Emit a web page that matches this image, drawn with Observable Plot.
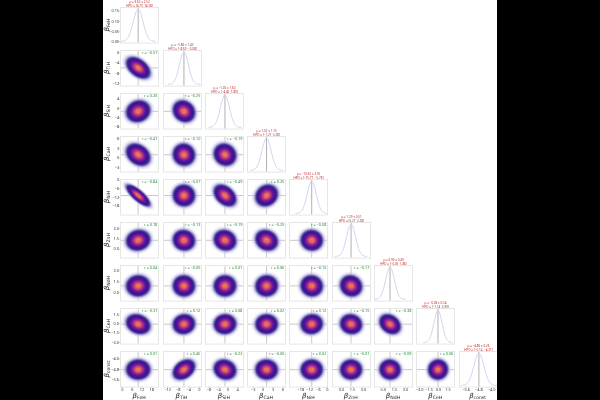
<!DOCTYPE html>
<html>
<head>
<meta charset="utf-8">
<script src="https://cdn.jsdelivr.net/npm/d3@7"></script>
<script src="https://cdn.jsdelivr.net/npm/@observablehq/plot@0.6"></script>
<style>
html,body{margin:0;padding:0;background:#000;width:600px;height:400px;overflow:hidden}
#fig{position:absolute;left:103px;top:0;width:394px;height:400px;background:#fff;overflow:hidden;font-family:"DejaVu Sans",sans-serif;filter:blur(.3px)}
#fig svg{position:absolute;background:transparent;max-width:none}
.lab{position:absolute;font-size:7px;line-height:1;color:#222;white-space:nowrap;transform:translate(-50%,-50%)}
.lab i{font-style:italic}
.lab sub{font-size:4.6px;vertical-align:-1.2px;line-height:0}
.lab.y{transform:translate(-50%,-50%) rotate(-90deg)}
</style>
</head>
<body>
<div id="fig"></div>
<script>
// ---- values ----
const names = ["FeH","TiH","SiH","CaH","NiH","ZnH","NdH","CeH","const"];
const means = [9.62,-5.86,-1.26,1.02,-10.62,1.29,0.90,-0.08,-4.80];
const sds   = [2.52,1.43,1.60,1.15,2.55,0.51,0.49,0.54,0.26];
const hpdLow  = ["4.73","−8.69","−4.40","−1.21","−15.77","0.27","−0.05","−1.14","−5.14"];
const hpdHigh = ["14.58","−3.08","1.89","3.28","−5.76","2.28","1.86","0.99","−4.31"];
const muText = ["9.62 ± 2.52","−5.86 ± 1.43","−1.26 ± 1.60","1.02 ± 1.15","−10.62 ± 2.55","1.29 ± 0.51","0.90 ± 0.49","−0.08 ± 0.54","−4.80 ± 0.26"];
const correlations = [
  [],
  [-0.57],
  [0.20,-0.25],
  [-0.41,-0.10,-0.19],
  [-0.84,-0.07,-0.49,0.25],
  [0.18,-0.13,-0.19,-0.25,-0.08],
  [0.04,-0.05,0.01,0.06,-0.10,-0.17],
  [-0.31,0.12,0.08,0.02,0.12,-0.15,-0.38],
  [0.01,0.45,-0.22,-0.06,0.02,-0.01,-0.09,0.06]
];
const xDomains = [[-1.2,22.1],[-13.6,0.8],[-9.4,6.5],[-4.7,6.7],[-25.7,0.1],[-1.24,3.94],[-1.2,3.95],[-3.5,2.55],[-6.01,-3.64]];
const yDomains = [[-0.008,0.168],[-13.0,0.94],[-8.96,6.47],[-4.3,6.6],[-24.2,0.5],[-1.29,3.87],[-1.17,3.68],[-3.27,2.43],[-6.13,-3.42]];
const xTicks = [[0,6,12,18],[-12,-8,-4,0],[-8,-4,0,4],[-3,0,3,6],[-18,-12,-6,0],[0,1.5,3],[0,1.5,3],[-3,-1.5,0,1.5],[-5.6,-4.8,-4]];
const yTicks = [[0,0.05,0.1,0.15],[-12,-8,-4,0],[-8,-4,0,4],[-3,0,3,6],[-18,-12,-6,0],[0,1.5,3],[0,1.5,3],[-3,-1.5,0,1.5],[-5.6,-4.8,-4]];
const tickDigits = [0,0,0,0,0,1,1,1,1];
const densityPeak = [0.16,0.28,0.25,0.35,0.157,0.78,0.82,0.74,1.53];
const curveOffsets = [-4.2,-3.6,-3.2,-2.8,-2.4,-2,-1.6,-1.2,-0.8,-0.4,0,0.4,0.8,1.2,1.6,2,2.4,2.8,3.2,3.6,4.2];
const curveHeights = [0.002,0.011,0.029,0.066,0.135,0.249,0.411,0.606,0.80,0.946,1,0.946,0.80,0.606,0.411,0.249,0.135,0.066,0.029,0.011,0.002];
// distance from the blob centre (in standard deviations) -> colour seen at that distance
const blobStops  = [0,0.35,0.75,1.2,1.65,2.15,2.6,2.95,3.4,4.1];
const blobColors = ["#f9a84a","#ef7f4f","#d5566e","#a92b8a","#6a149e","#3f1293","#33208a","#7068b8","#bdb7df","#ebe8f6"];

// ---- layout ----
const colStep = 42.3, rowStep = 43, left0 = 120.2 - 103, top0 = 6.8, pw = 38, ph = 35.6;
const mL = 18, mR = 2, mT = 8, mB = 10;
const fig = document.getElementById("fig");
const tickColor = "#333", ruleColor = "#c8c8c8", frameColor = "#e6e6e6";

function axes(i, j){
  const marks = [];
  const tickOpts = {fontSize:3.9, tickSize:1, tickPadding:0.4, stroke:"#aaa", strokeWidth:0.5, fill:tickColor, label:null};
  if (j === 0) {
    const dig = i === 0 ? 2 : tickDigits[i];
    marks.push(Plot.axisY(yTicks[i], {...tickOpts, anchor:"left", tickFormat:v => d3.format("."+dig+"f")(v).replace("-","−")}));
  }
  if (i === names.length - 1) {
    const dig = tickDigits[j];
    marks.push(Plot.axisX(xTicks[j], {...tickOpts, anchor:"bottom", tickFormat:v => d3.format("."+dig+"f")(v).replace("-","−")}));
  }
  return marks;
}
function place(svg, i, j){
  svg.style.left = (left0 + j*colStep - mL) + "px";
  svg.style.top = (top0 + i*rowStep - mT) + "px";
  fig.appendChild(svg);
}
const base = {width: pw + mL + mR, height: ph + mT + mB, marginLeft: mL, marginRight: mR, marginTop: mT, marginBottom: mB};

for (let i = 0; i < names.length; i++) {
  for (let j = 0; j <= i; j++) {
    let marks;
    let yDom;
    if (i === j) {
      const p = densityPeak[i];
      yDom = i === 0 ? yDomains[0] : [-0.05*p, 1.05*p];
      const line = curveOffsets.map((z,k) => ({x: means[i] + z*sds[i], y: curveHeights[k]*p}));
      marks = [
        Plot.ruleX([means[i]], {stroke:"#b0b0b0", strokeWidth:1}),
        Plot.line(line, {x:"x", y:"y", curve:"monotone-x", stroke:"#cfcff2", strokeWidth:0.9}),
        Plot.text([`μ = ${muText[i]}`], {frameAnchor:"top", dy:-4.2, fontSize:3, fill:"#bb2a2a", lineAnchor:"bottom", text:d=>d}),
        Plot.text([`HPD = [${hpdLow[i]}, ${hpdHigh[i]}]`], {frameAnchor:"top", dy:-0.4, fontSize:3, fill:"#bb2a2a", lineAnchor:"bottom", text:d=>d})
      ];
    } else {
      yDom = yDomains[i];
      const r = correlations[i][j];
      // the drawn shape looks rounder than the printed r because of its long tails
      const shapeR = Math.sign(r) * Math.pow(Math.abs(r), 1.4);
      const [mx,my,sx,sy] = [means[j],means[i],sds[j],sds[i]];
      const dist = (x,y) => {
        const a = (x-mx)/sx, b = (y-my)/sy;
        return Math.sqrt((a*a - 2*shapeR*a*b + b*b)/(1 - shapeR*shapeR));
      };
      const rText = `r = ${r.toFixed(2).replace("-","−")}`;
      marks = [
        Plot.ruleX([mx], {stroke:ruleColor, strokeWidth:1}),
        Plot.ruleY([my], {stroke:ruleColor, strokeWidth:1}),
        Plot.raster({
          x1:xDomains[j][0], x2:xDomains[j][1], y1:yDom[0], y2:yDom[1],
          pixelSize:1,
          fill:(x,y) => dist(x,y),
          fillOpacity:(x,y) => { const d = dist(x,y); return d < 2.9 ? 1 : Math.max(0, 1 - (d-2.9)/1.3); }
        }),
        Plot.dot([[mx,my]], {x:d=>d[0], y:d=>d[1], r:0.6, fill:"#553", fillOpacity:0.7, stroke:null}),
        Plot.text([rText], {frameAnchor:"top-right", dx:-1.2, dy:1, fontSize:3.8, fill:"#1f8a30", lineAnchor:"top", text:d=>d})
      ];
    }
    const svg = Plot.plot({
      ...base,
      x:{domain:xDomains[j], axis:null},
      y:{domain:yDom, axis:null},
      color:{type:"linear", domain:blobStops, range:blobColors, clamp:true},
      marks:[...marks, Plot.frame({stroke:frameColor, strokeWidth:1}), ...axes(i,j)]
    });
    place(svg, i, j);
  }
}
function label(name, cls, x, y){
  const el = document.createElement("div");
  el.className = "lab " + cls;
  el.style.left = x + "px";
  el.style.top = y + "px";
  const b = document.createElement("i"); b.textContent = "β";
  const s = document.createElement("sub"); s.textContent = name;
  el.append(b, s);
  fig.appendChild(el);
}
names.forEach((n,k) => {
  label(n, "x", left0 + k*colStep + pw/2, 396.3);
  label(n, "y", 3.5, top0 + k*rowStep + ph/2);
});
</script>
</body>
</html>
